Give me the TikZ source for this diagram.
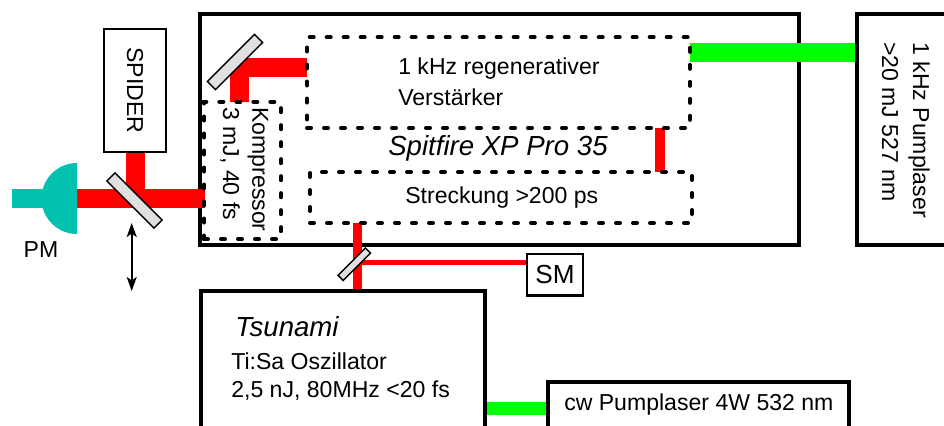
\documentclass[tikz,border=0pt]{standalone}
\usepackage{fontspec}
\setmainfont{Liberation Sans}
\usetikzlibrary{arrows.meta,backgrounds}
\definecolor{pmteal}{RGB}{0,194,174}
\definecolor{mirrorgray}{RGB}{224,224,224}
\tikzstyle{txt}=[inner sep=0pt,font=\fontsize{17.3}{19}\selectfont]
\tikzstyle{title}=[inner sep=0pt,font=\fontsize{20.7}{22}\itshape\selectfont]
\tikzstyle{thickbox}=[rectangle,draw=black,line width=3pt,inner sep=0pt,outer sep=0pt]
\tikzstyle{thinbox}=[rectangle,draw=black,line width=1.2pt,inner sep=0pt,outer sep=0pt]
\tikzstyle{stage}=[rectangle,draw=black,line width=3pt,line cap=round,dash pattern=on 3pt off 9.75pt,inner sep=0pt,outer sep=0pt]
\tikzstyle{mirror}=[rectangle,draw=black,fill=mirrorgray,line width=1.1pt,inner sep=0pt,outer sep=0pt]
\tikzstyle{redbeam}=[draw=red,line width=14.25pt]
\tikzstyle{greenbeam}=[draw=green,line width=14.25pt]
\tikzstyle{movetip}=[{Stealth[length=10.5pt,width=7.5pt,inset=2.5pt]}-{Stealth[length=10.5pt,width=7.5pt,inset=2.5pt]},line width=1.2pt]

\begin{document}
\begin{tikzpicture}[x=0.75pt,y=-0.75pt]
\useasboundingbox (0,0) rectangle (944,425);
\clip (0,0) rectangle (944,425);
\node(pumplaser)[thickbox,minimum width=150pt,minimum height=173.25pt,anchor=west] at (857,129.5){};
\node(tsunami)[thickbox,minimum width=213pt,minimum height=150pt,anchor=north west] at (201,291){};
\node(cwlaser)[thickbox,minimum width=226pt,minimum height=60pt,anchor=north west] at (548,382){};
\node(sm)[thickbox,txt,line width=2pt,minimum width=42pt,minimum height=31pt,font=\fontsize{19.6}{21}\selectfont] at (555,274.5){SM};
\node(spider)[thinbox,txt,rotate=-90,minimum width=92pt,minimum height=46.5pt] at (135,90.5){SPIDER};
\node(regen)[stage,minimum width=287.25pt,minimum height=68pt] at (498.5,82.5){};
\node(streck)[stage,minimum width=286.5pt,minimum height=38.25pt] at (501,197.5){};
\node(kompressor)[stage,minimum width=57.75pt,minimum height=103pt] at (242.5,170.5){};
\node(topmirror)[mirror,rotate=45,minimum width=50pt,minimum height=8.6pt] at (235,62){};
\node(splitter)[mirror,rotate=-45,minimum width=50pt,minimum height=8.6pt] at (134.5,200.5){};
\node(smmirror)[mirror,rotate=45,minimum width=29pt,minimum height=5.5pt] at (354.3,264.2){};
\coordinate(pmflat) at (77,198.5);
\coordinate(kompin) at (205,198.5);
\coordinate(regenin) at (307,67.5);
\coordinate(topfold) at (239.5,67.5);
\coordinate(kompout) at (239.5,102);
\coordinate(regenout) at (660,127.5);
\coordinate(streckin) at (660,172);
\coordinate(streckout) at (357.5,223);
\coordinate(oscout) at (357.5,289.5);
\coordinate(smtap) at (357.5,262.5);
\coordinate(greenin) at (690,52.5);
\coordinate(cwout) at (548,408.5);
\coordinate(arrowtop) at (131.7,223);
\coordinate(arrowbot) at (131.7,291);
\begin{scope}[on background layer]
\node(spitfire)[thickbox,minimum width=449.25pt,minimum height=173.25pt] at (499.5,129.5){};
\draw[redbeam](pmflat)--(kompin);
\draw[redbeam](spider.east)--(spider.east |- kompin);
\draw[redbeam,miter limit=10](regenin)--(topfold)--(kompout);
\draw[redbeam,line width=7pt](regenout)--(streckin);
\draw[redbeam,line width=7pt](streckout)--(oscout);
\draw[redbeam,line width=3.4pt](smtap)--(smtap -| sm.west);
\draw[greenbeam](greenin)--(greenin -| pumplaser.west);
\draw[greenbeam,line width=9.75pt](cwout)--(cwout -| tsunami.east);
\end{scope}
\fill[pmteal](12,189) rectangle (45,208);
\fill[pmteal](77,234) arc[start angle=90,end angle=270,radius=35.5]--cycle;
\draw[movetip](arrowtop)--(arrowbot);
\node(pmlabel)[txt] at (41,250){PM};
\node(regenlabel)[txt,anchor=west] at (398,69){1 kHz regenerativer};
\node(regenlabelb)[txt,anchor=west] at (398,97){Verstärker};
\node(spitfirelabel)[title,anchor=west] at (388,148){Spitfire XP Pro 35};
\node(strecklabel)[txt,anchor=west] at (405,198){Streckung >200 ps};
\node(komplabel)[txt,anchor=west,rotate=-90] at (258,107){Kompressor};
\node(komplabelb)[txt,anchor=west,rotate=-90] at (230,107){3 mJ, 40 fs};
\node(pumplabel)[txt,anchor=west,rotate=-90] at (919,42){1 kHz Pumplaser};
\node(pumplabelb)[txt,anchor=west,rotate=-90] at (890,42){>20 mJ 527 nm};
\node(tsunamilabel)[title,anchor=west] at (235,327){Tsunami};
\node(osclabel)[txt,anchor=west] at (231,361){Ti:Sa Oszillator};
\node(osclabelb)[txt,anchor=west] at (231,391){2,5 nJ, 80MHz <20 fs};
\node(cwlabel)[txt,anchor=west] at (564,405){cw Pumplaser 4W 532 nm};
\end{tikzpicture}
\end{document}
